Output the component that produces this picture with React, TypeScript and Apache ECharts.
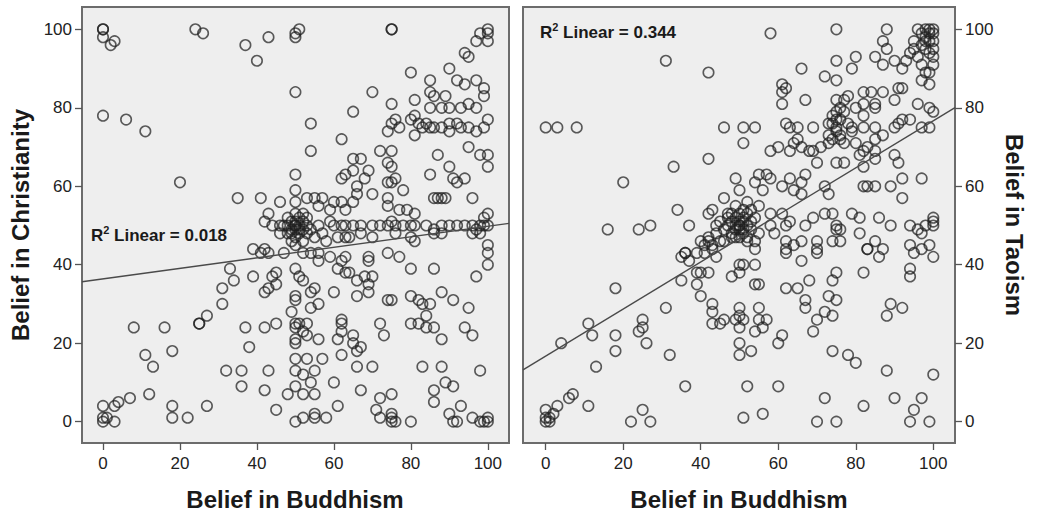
import React, { useEffect, useRef } from 'react';
import * as echarts from 'echarts';

const TICKS = [0, 20, 40, 60, 80, 100];
const X_TITLE = 'Belief in Buddhism';
const Y_TITLE_LEFT = 'Belief in Christianity';
const Y_TITLE_RIGHT = 'Belief in Taoism';

// Belief in Buddhism (x) vs Belief in Christianity (y)
const christianityPoints: number[][] = [
  [0,100],[0,100],[0,98],[2,96],[3,97],[24,100],[26,99],[37,96],[40,92],[43,98],
  [50,98],[50,99],[51,100],[50,84],[75,100],[75,100],[100,100],[100,99],[100,97],[98,99],[97,97],
  [94,94],[95,93],[90,90],[80,89],[85,87],[85,84],[86,83],[89,83],[92,87],[94,86],[97,87],[99,85],[99,83],
  [81,82],[75,81],[70,84],[65,79],[0,78],[6,77],[11,74],
  [74,74],[75,76],[76,77],[77,75],[80,77],[81,78],[83,75],[82,76],[81,73],[85,75],[85,80],[88,75],[90,76],
  [90,74],[88,80],[90,80],[93,75],[95,81],[95,75],[97,74],[99,75],[100,77],[93,80],[97,80],[92,76],[86,75],[84,76],
  [95,70],[87,68],[100,68],[98,68],[100,65],[90,65],
  [54,76],[54,69],[62,72],[72,69],[75,69],[74,66],[75,65],[85,63],[91,62],[94,62],[92,61],[89,57],[86,57],
  [87,57],[88,57],[96,57],[50,63],[50,59],[20,61],
  [65,67],[67,67],[65,64],[69,64],[68,62],[62,62],[63,63],[66,60],[66,58],[70,58],[74,61],[75,61],[76,62],
  [74,57],[74,55],[78,59],[77,54],[79,54],[81,53],
  [35,57],[41,57],[46,56],[50,56],[53,57],[57,57],[60,56],[62,56],[56,55],[55,57],[59,54],[63,54],[65,56],
  [48,52],[49,51],[50,50],[50,50],[50,49],[51,50],[51,48],[52,51],[50,47],[49,49],[48,48],[52,49],[53,50],
  [47,50],[50,53],[51,52],[49,46],[52,46],[53,52],[54,49],[55,47],[50,51],[49,48],[51,49],[48,50],[52,53],
  [53,48],[50,45],[46,48],[42,51],[43,53],[44,50],[46,50],
  [56,50],[59,51],[60,50],[62,50],[63,50],[65,50],[67,50],[70,50],[72,50],[74,50],[75,51],[76,50],[78,50],
  [80,50],[81,50],[84,50],[86,49],[88,50],[90,50],[92,50],[94,50],[96,50],[97,49],[98,50],[99,50],[100,50],
  [100,53],[99,52],[98,48],
  [63,47],[64,47],[76,48],[80,47],[81,46],[86,48],[88,48],[96,48],[58,46],[61,47],[100,45],[57,48],[67,48],[70,47],
  [39,44],[42,44],[43,43],[47,43],[56,43],[63,42],[69,42],[74,43],[77,42],
  [41,43],[52,43],[54,43],[56,41],[59,42],[62,41],[61,39],[63,38],[64,38],[66,36],[68,37],[70,37],[69,41],
  [80,39],[86,39],[97,37],[100,40],[100,43],
  [33,39],[31,34],[34,36],[31,30],[39,37],[45,38],[44,37],[42,33],[43,34],[45,35],[50,39],[51,37],[52,36],
  [50,32],[50,31],[49,28],[54,33],[55,34],[54,29],[56,30],[60,33],[66,32],[69,35],[69,33],[74,31],[75,31],
  [80,32],[82,31],[83,30],[85,30],[84,27],[88,33],[91,31],[95,29],[94,24],[96,22],[80,25],[82,25],[84,24],
  [86,24],[88,21],[83,14],[88,14],[86,8],[86,5],[89,10],[91,9],[93,4],[90,2],[92,0],[91,0],[96,1],[98,0],
  [100,1],[100,0],[99,0],[98,13],
  [25,25],[25,25],[27,27],[27,4],[37,24],[38,19],[42,24],[45,25],[50,25],[50,24],[51,25],[52,23],[50,21],
  [50,20],[53,25],[56,21],[53,22],[50,16],[53,16],[57,16],[50,13],[52,12],[55,13],[54,10],[50,9],[48,7],
  [52,7],[55,7],[45,3],[50,0],[52,1],[55,2],[55,1],[58,1],[61,4],[60,10],[61,21],[62,17],[62,26],[62,25],
  [62,23],[65,22],[65,20],[66,18],[67,19],[66,14],[67,8],[70,14],[72,25],[73,22],[72,6],[71,3],[72,1],
  [75,7],[75,2],[75,1],[75,0],[76,0],[80,0],
  [32,13],[36,13],[36,9],[43,13],[42,8],
  [8,24],[16,24],[18,18],[11,17],[13,14],[12,7],[7,6],[4,5],[3,4],[0,4],[0,1],[0,0],[1,1],[3,0],[18,4],[18,1],[22,1]
];

// Belief in Buddhism (x) vs Belief in Taoism (y)
const taoismPoints: number[][] = [
  [58,99],[75,100],[31,92],[42,89],[66,90],[72,88],[75,92],[75,87],[79,90],[80,93],[85,93],[88,100],[87,97],
  [88,95],[87,91],[90,92],[92,90],[93,92],[95,97],[94,94],
  [96,100],[97,99],[98,100],[99,100],[100,100],[100,99],[98,98],[99,97],[100,97],[97,96],[98,95],[99,94],
  [100,95],[96,93],[95,95],[100,93],[100,91],[99,89],[97,87],[99,86],[98,89],[97,91],[98,97],[99,99],
  [61,86],[61,84],[61,81],[67,82],[62,85],
  [75,82],[77,82],[78,83],[82,84],[84,84],[87,84],[85,81],[85,80],[82,81],[80,80],[82,78],[90,82],[92,85],
  [91,85],[96,81],[99,80],[100,79],
  [73,76],[74,78],[75,75],[75,74],[76,77],[76,73],[77,79],[74,72],[78,76],[73,73],[75,79],[76,80],[77,71],
  [74,76],[75,77],
  [62,76],[65,75],[69,75],[63,75],[82,75],[85,75],[87,73],[90,75],[92,77],[91,76],[94,77],[97,75],[99,75],[79,75],
  [46,75],[51,75],[54,75],[51,71],[58,69],[60,70],[63,69],[64,71],[65,72],[66,70],[68,69],[69,69],[71,70],
  [73,71],[76,72],[79,74],[80,71],[82,69],[83,70],[85,72],[81,68],[85,67],[85,69],
  [0,75],[3,75],[8,75],
  [42,67],[33,65],[20,61],[55,63],[54,61],[57,63],[58,62],[49,62],[50,59],[56,59],[61,60],[63,62],[66,61],
  [64,59],[66,58],[67,63],[70,66],[72,60],[73,58],[75,66],[77,66],[82,65],[82,60],[83,60],[85,60],[89,60],
  [92,62],[92,57],[97,62],[90,68],[91,66],
  [46,57],[43,54],[42,53],[34,54],[37,50],[16,49],[24,49],[27,50],
  [48,48],[49,50],[50,50],[50,51],[51,52],[52,50],[50,49],[49,52],[51,48],[52,53],[53,51],[50,47],[48,51],
  [51,49],[50,50],[49,47],[53,49],[54,52],[47,50],[52,47],[50,53],[51,51],[49,49],[48,53],[53,54],[55,55],
  [52,56],[51,54],[47,53],[49,55],
  [58,53],[61,53],[62,50],[63,51],[67,50],[69,52],[72,53],[74,53],[75,50],[75,49],[76,49],[79,53],[81,52],
  [86,52],[89,50],[94,50],[96,49],[98,50],[100,52],[100,51],[100,50],[97,48],[99,45],[94,45],[95,43],[85,46],
  [83,44],[87,44],[81,48],[76,46],[74,46],[70,46],[66,46],[64,45],[62,46],[70,43],[62,43],[59,48],[58,50],
  [55,48],[54,46],[54,44],[52,46],[48,47],[46,46],[44,48],[43,45],[42,46],[41,43],[39,43],[36,43],[35,42],
  [40,46],[41,45],[42,47],[43,44],[44,42],[45,46],[46,49],[44,50],[47,52],[45,51],
  [36,43],[37,41],[39,38],[40,38],[42,38],[39,35],[35,36],[40,32],[43,30],[43,28],[43,25],[46,26],[45,25],
  [48,37],[50,40],[50,38],[51,40],[54,40],[54,35],[55,35],[50,29],[50,27],[49,26],[51,26],[50,24],[50,20],
  [50,17],[53,18],[54,23],[55,29],[55,26],[56,24],[57,26],[62,34],[65,34],[67,31],[67,29],[68,36],[69,23],
  [70,26],[72,28],[73,32],[74,36],[75,38],[74,27],[75,31],[60,20],[61,22],[62,44],[70,44],[66,41],[82,38],
  [86,42],[83,44],[94,39],[94,37],[100,42],[97,44],[88,27],[89,30],[92,29],[74,18],[78,17],[80,15],[88,13],
  [100,12],[72,6],[82,4],[90,6],[97,6],[95,3],[94,0],[99,0],[70,0],[75,0],[51,1],[56,2],[52,9],[60,9],[36,9],
  [18,34],[31,29],[25,26],[25,24],[24,23],[26,20],[18,22],[18,18],[32,17],[11,25],[12,22],[4,20],[13,14],
  [11,4],[7,7],[6,6],[3,4],[0,3],[0,1],[0,0],[1,0],[2,2],[1,1],[22,0],[25,3],[27,0]
];

const christianityFit = { intercept: 36.4, slope: 0.134, r2: '0.018' };
const taoismFit = { intercept: 16.7, slope: 0.6, r2: '0.344' };

const LEFT_X = { min: -5.46, max: 105.5 };
const RIGHT_X = { min: -5.86, max: 105.6 };
const Y_RANGE = { min: -5.45, max: 105.7 };

const FONT = '"Liberation Sans", Arial, Helvetica, sans-serif';

function fitLine(fit: { intercept: number; slope: number }, xr: { min: number; max: number }) {
  return [xr.min, xr.max].map((x) => [x, fit.intercept + fit.slope * x]);
}

const tickStyle = { show: true, length: 7, customValues: TICKS, lineStyle: { color: '#555', width: 1.3 } };

function xAxis(gridIndex: number, xr: { min: number; max: number }) {
  return {
    type: 'value',
    gridIndex,
    min: xr.min,
    max: xr.max,
    axisLine: { show: false, onZero: false },
    axisTick: tickStyle,
    axisLabel: { customValues: TICKS, margin: 12, fontSize: 17, color: '#222', fontFamily: FONT },
    splitLine: { show: false },
  };
}

function yAxis(gridIndex: number, position: string) {
  return {
    type: 'value',
    gridIndex,
    position,
    min: Y_RANGE.min,
    max: Y_RANGE.max,
    axisLine: { show: false, onZero: false },
    axisTick: tickStyle,
    axisLabel: { customValues: TICKS, margin: 10, fontSize: 17, color: '#222', fontFamily: FONT },
    splitLine: { show: false },
  };
}

const scatterStyle = {
  type: 'scatter',
  symbol: 'circle',
  symbolSize: 10.5,
  itemStyle: { color: 'rgba(0,0,0,0)', borderColor: 'rgba(30,30,30,0.9)', borderWidth: 1.6 },
  silent: true,
};

function r2Text(x: number, y: number, value: string) {
  return {
    type: 'text', x, y, z: 10,
    style: {
      text: `{r|R}{s|2}{r| Linear = ${value}}`,
      fontFamily: FONT,
      textAlign: 'left',
      textVerticalAlign: 'middle',
      rich: {
        r: { fontSize: 17, fontWeight: 'bold', fill: '#1a1a1a', fontFamily: FONT, verticalAlign: 'bottom', lineHeight: 20 },
        s: { fontSize: 11, fontWeight: 'bold', fill: '#1a1a1a', fontFamily: FONT, verticalAlign: 'top', lineHeight: 20 },
      },
    },
  };
}

export default function App() {
  const ref = useRef<HTMLDivElement>(null);
  useEffect(() => {
    if (!ref.current) return;
    const chart = echarts.init(ref.current, undefined, { renderer: 'svg' });
    const gridStyle = { show: true, backgroundColor: '#eeeeee', borderColor: '#6c6c6c', borderWidth: 2 };
    const titleStyle = { fontSize: 24, fontWeight: 'bold', fill: '#1a1a1a', fontFamily: FONT, textAlign: 'center', textVerticalAlign: 'middle' };
    chart.setOption({
      animation: false,
      backgroundColor: '#ffffff',
      grid: [
        { left: 82, top: 7, width: 427, height: 436, ...gridStyle },
        { left: 523, top: 7, width: 432, height: 436, ...gridStyle },
      ],
      xAxis: [xAxis(0, LEFT_X), xAxis(1, RIGHT_X)],
      yAxis: [yAxis(0, 'left'), yAxis(1, 'right')],
      series: [
        { ...scatterStyle, xAxisIndex: 0, yAxisIndex: 0, data: christianityPoints },
        { ...scatterStyle, xAxisIndex: 1, yAxisIndex: 1, data: taoismPoints },
        {
          type: 'line', xAxisIndex: 0, yAxisIndex: 0, data: fitLine(christianityFit, LEFT_X),
          symbol: 'none', lineStyle: { color: '#4a4a4a', width: 1.4 }, silent: true, z: 3,
        },
        {
          type: 'line', xAxisIndex: 1, yAxisIndex: 1, data: fitLine(taoismFit, RIGHT_X),
          symbol: 'none', lineStyle: { color: '#4a4a4a', width: 1.4 }, silent: true, z: 3,
        },
      ],
      graphic: [
        { type: 'text', x: 295, y: 499, style: { text: X_TITLE, ...titleStyle } },
        { type: 'text', x: 739, y: 499, style: { text: X_TITLE, ...titleStyle } },
        { type: 'text', x: 20, y: 225, rotation: Math.PI / 2, style: { text: Y_TITLE_LEFT, ...titleStyle } },
        { type: 'text', x: 1014, y: 225, rotation: -Math.PI / 2, style: { text: Y_TITLE_RIGHT, ...titleStyle } },
        r2Text(91, 234, christianityFit.r2),
        r2Text(540, 31, taoismFit.r2),
      ],
    });
    return () => chart.dispose();
  }, []);
  return <div ref={ref} style={{ position: 'fixed', left: 0, top: 0, width: 1039, height: 514 }} />;
}
